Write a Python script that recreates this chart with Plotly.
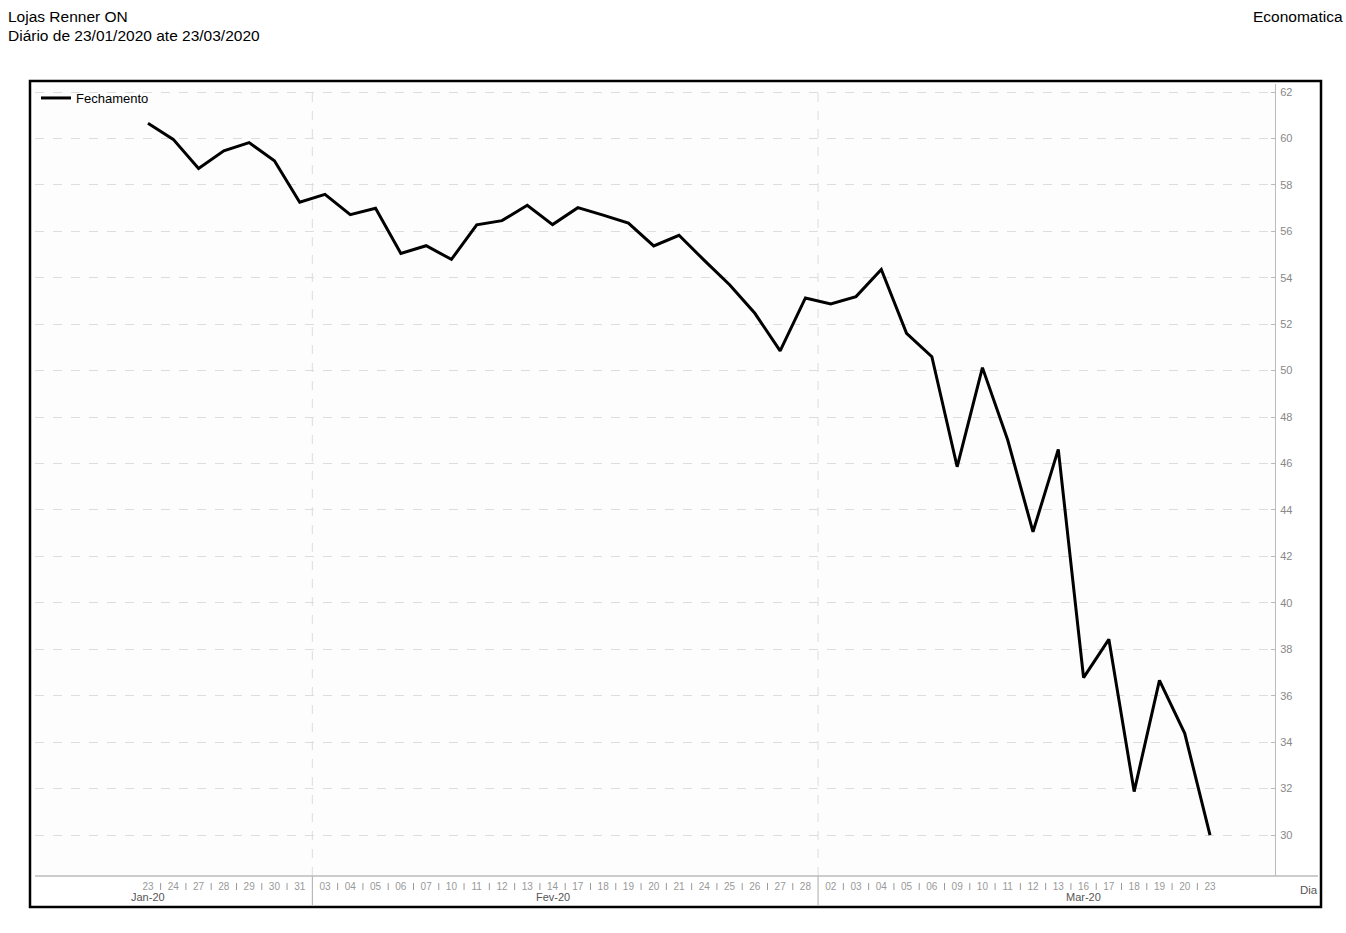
import plotly.graph_objects as go

# ---- data ----
dates = ["23/01", "24/01", "27/01", "28/01", "29/01", "30/01", "31/01",
         "03/02", "04/02", "05/02", "06/02", "07/02", "10/02", "11/02", "12/02", "13/02", "14/02",
         "17/02", "18/02", "19/02", "20/02", "21/02", "24/02", "25/02", "26/02", "27/02", "28/02",
         "02/03", "03/03", "04/03", "05/03", "06/03", "09/03", "10/03", "11/03", "12/03", "13/03",
         "16/03", "17/03", "18/03", "19/03", "20/03", "23/03"]
day_labels = [d[:2] for d in dates]
fechamento = [60.65, 59.96, 58.71, 59.47, 59.82, 59.04, 57.25,
              57.59, 56.72, 56.99, 55.05, 55.38, 54.79, 56.28, 56.46, 57.12, 56.29,
              57.02, 56.70, 56.35, 55.37, 55.83, 54.75, 53.70, 52.47, 50.85, 53.13,
              52.87, 53.19, 54.36, 51.61, 50.60, 45.86, 50.13, 47.01, 43.06, 46.61,
              36.78, 38.43, 31.87, 36.66, 34.38, 30.00]
month_labels = ["Jan-20", "Fev-20", "Mar-20"]
month_label_idx = [0, 16, 37]
month_boundaries = [6.5, 26.5]
y_ticks = list(range(30, 63, 2))

# ---- layout geometry (pixels) ----
W, H = 1346, 933
L, R, T, B = 35, 1275, 84, 876
pw, ph = R - L, B - T

def px_x(px):
    return (px - L) / pw

def px_y(py):
    return (B - py) / ph

x_idx = list(range(len(dates)))

fig = go.Figure()
fig.add_trace(go.Scatter(
    x=x_idx, y=fechamento, mode="lines", name="Fechamento",
    line=dict(color="black", width=3),
    hoverinfo="y",
))

shapes = []
# small separators between day labels
for i in range(len(dates) - 1):
    xm = i + 0.5
    if xm in month_boundaries:
        continue
    shapes.append(dict(type="line", xref="x", yref="paper", x0=xm, x1=xm,
                       y0=px_y(883), y1=px_y(890), line=dict(color="#999999", width=1)))
# month boundaries: dashed in plot, solid below
for xm in month_boundaries:
    shapes.append(dict(type="line", xref="x", yref="paper", x0=xm, x1=xm,
                       y0=0, y1=1, line=dict(color="#dddddd", width=1, dash="dash"), layer="below"))
    shapes.append(dict(type="line", xref="x", yref="paper", x0=xm, x1=xm,
                       y0=0, y1=px_y(905), line=dict(color="#aaaaaa", width=1)))
# bottom axis line
shapes.append(dict(type="line", xref="paper", yref="paper", x0=0, x1=px_x(1318),
                   y0=0, y1=0, line=dict(color="#bbbbbb", width=1.5)))
# outer frame
shapes.append(dict(type="rect", xref="paper", yref="paper",
                   x0=px_x(30), x1=px_x(1321), y0=px_y(907), y1=px_y(81),
                   line=dict(color="black", width=2.5)))

annotations = []
for lab, idx in zip(month_labels, month_label_idx):
    annotations.append(dict(x=idx, y=px_y(897), xref="x", yref="paper", text=lab,
                            showarrow=False, xanchor="center", yanchor="middle",
                            font=dict(size=11, color="#555555")))
annotations.append(dict(x=px_x(1298), y=px_y(890), xref="paper", yref="paper", text="Dia",
                        showarrow=False, xanchor="left", yanchor="middle",
                        font=dict(size=11.5, color="#555555")))
annotations.append(dict(x=px_x(6), y=px_y(16), xref="paper", yref="paper", text="Lojas Renner ON",
                        showarrow=False, xanchor="left", yanchor="middle",
                        font=dict(size=15.5, color="black")))
annotations.append(dict(x=px_x(6), y=px_y(35), xref="paper", yref="paper",
                        text="Diário de 23/01/2020 ate 23/03/2020",
                        showarrow=False, xanchor="left", yanchor="middle",
                        font=dict(size=15.5, color="black")))
annotations.append(dict(x=px_x(1251), y=px_y(16), xref="paper", yref="paper", text="Economatica",
                        showarrow=False, xanchor="left", yanchor="middle",
                        font=dict(size=15.5, color="black")))

fig.update_layout(
    width=W, height=H,
    margin=dict(l=L, r=W - R, t=T, b=H - B, pad=0),
    paper_bgcolor="white", plot_bgcolor="#fdfdfd",
    font=dict(family="Liberation Sans, Arial, sans-serif"),
    showlegend=True,
    legend=dict(x=px_x(36), y=px_y(83), xanchor="left", yanchor="top",
                bgcolor="rgba(0,0,0,0)", font=dict(size=13, color="black"),
                itemwidth=30, tracegroupgap=0),
    xaxis=dict(range=[-(148 - L) / 25.29, 42 + (R - 1210) / 25.29],
               tickvals=x_idx, ticktext=day_labels, tickangle=0,
               tickfont=dict(size=10, color="#999999"), ticklabelstandoff=3,
               showgrid=False, zeroline=False, showline=False, ticks=""),
    yaxis=dict(range=[62 - (B - 92) / 23.22, 62 + (92 - T) / 23.22],
               side="right", tickvals=y_ticks,
               tickfont=dict(size=11, color="#888888"), ticklabelstandoff=2,
               showgrid=True, gridcolor="#dddddd", griddash="dash", gridwidth=1,
               zeroline=False, showline=True, linecolor="#bbbbbb", linewidth=1,
               ticks="inside", ticklen=4, tickcolor="#bbbbbb"),
    shapes=shapes, annotations=annotations,
)

fig.write_html("out.html", config={"displayModeBar": False},
               post_script="document.body.style.margin='0';document.body.style.overflow='hidden';")
